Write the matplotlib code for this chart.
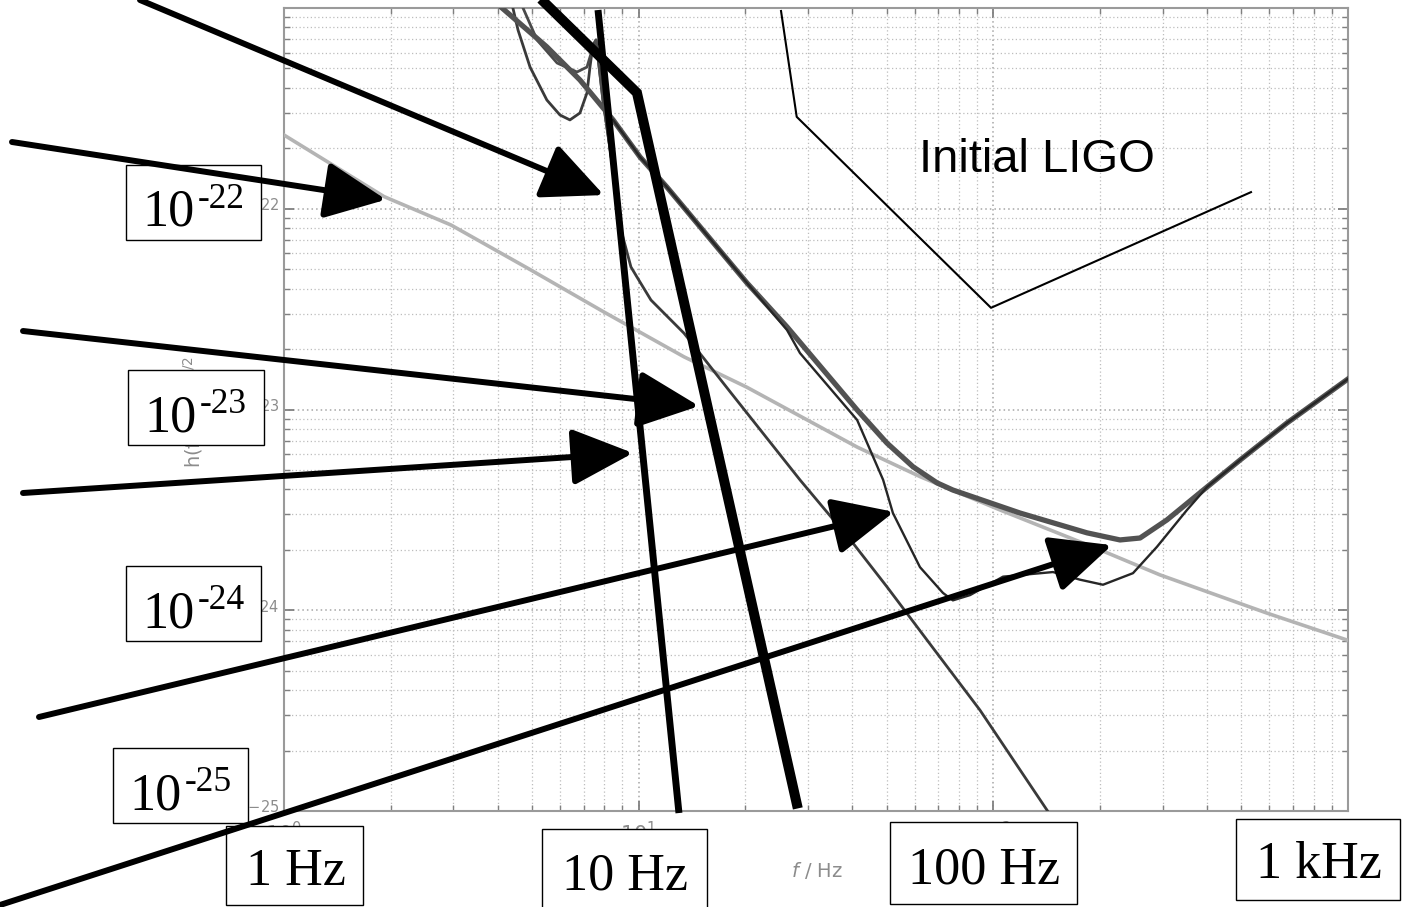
import matplotlib.pyplot as plt
from matplotlib.patches import Rectangle, ConnectionPatch

W, H = 1405, 907  # canvas size in pixels

# noise curves: frequency in Hz, strain amplitude in 1/sqrt(Hz)
total_f = [3.6, 4.12, 5.51, 6.83, 8.47, 10.09, 12.02, 20.2, 26.19, 41.3, 50.1,
           59.4, 69.4, 76.9, 118.9, 183.7, 227.6, 259.2, 308.8, 400.4, 496.1,
           673.0, 1000]
total_h = [1.22e-21, 1.00e-21, 6.40e-22, 4.38e-22, 2.77e-22, 1.81e-22, 1.28e-22,
           4.27e-23, 2.58e-23, 9.95e-24, 6.81e-24, 5.18e-24, 4.31e-24, 3.97e-24,
           3.05e-24, 2.43e-24, 2.24e-24, 2.29e-24, 2.82e-24, 4.11e-24, 5.60e-24,
           8.57e-24, 1.42e-23]

quantum_f = [8.47, 10.09, 12.02, 20.2, 26.19, 28.5, 41.3, 48.9, 52.1, 62.1, 72.1,
             76.9, 86.0, 106.5, 147.3, 175.5, 203.8, 247.6, 289.3, 351.6, 400.4,
             496.1, 673.0, 1000]
quantum_h = [2.77e-22, 1.81e-22, 1.28e-22, 4.27e-23, 2.49e-23, 1.91e-23, 8.87e-24,
             4.46e-24, 3.05e-24, 1.64e-24, 1.22e-24, 1.12e-24, 1.19e-24, 1.47e-24,
             1.55e-24, 1.42e-24, 1.34e-24, 1.53e-24, 2.07e-24, 3.16e-24, 4.11e-24,
             5.60e-24, 8.57e-24, 1.42e-23]

susp_f = [4.37, 4.42, 4.57, 4.94, 5.51, 6.00, 6.40, 6.83, 7.15, 7.29, 7.43, 7.58,
          7.93, 8.47, 8.92, 9.51, 9.89, 10.83, 13.42, 18.21, 28.5, 40.2, 50.1,
          65.0, 91.7, 141.7, 154.2]
susp_h = [1.16e-21, 1.00e-21, 7.76e-22, 5.08e-22, 3.48e-22, 2.93e-22, 2.77e-22,
          3.00e-22, 3.78e-22, 5.08e-22, 6.55e-22, 6.93e-22, 3.48e-22, 1.56e-22,
          7.83e-23, 5.13e-23, 4.57e-23, 3.51e-23, 2.40e-23, 1.21e-23, 4.46e-24,
          2.16e-24, 1.31e-24, 7.11e-25, 3.18e-25, 1.01e-25, 8.0e-26]

notch_f = [4.66, 4.72, 5.17, 5.89, 6.70, 7.15, 7.39, 7.58, 7.93, 8.47]
notch_h = [1.16e-21, 1.00e-21, 6.93e-22, 5.32e-22, 4.80e-22, 5.08e-22, 6.18e-22,
           6.93e-22, 3.48e-22, 1.56e-22]

coating_f = [1.0, 1.914, 2.957, 4.97, 7.98, 13.42, 20.2, 32.5, 41.3, 62.5, 104.4,
             199.8, 295.1, 590.8, 1000]
coating_h = [2.33e-22, 1.15e-22, 8.30e-23, 4.95e-23, 3.06e-23, 1.83e-23, 1.29e-23,
             8.18e-24, 6.50e-24, 4.61e-24, 3.16e-24, 2.00e-24, 1.50e-24, 9.68e-25,
             7.08e-25]

# hand-drawn schematic lines
wall_a_f = [7.68, 12.99]
wall_a_h = [9.77e-22, 9.77e-26]
wall_b_f = [5.27, 9.89, 28.1]
wall_b_h = [1.12e-21, 3.78e-22, 1.03e-25]
ligo_f = [25.2, 27.9, 98.5, 532.7]
ligo_h = [9.66e-22, 2.87e-22, 3.21e-23, 1.21e-22]

# arrow tips on the plot (Hz, strain)
tip_f = [7.98, 1.94, 14.8, 9.64, 52.5, 216.0]
tip_h = [1.17e-22, 1.11e-22, 1.04e-23, 6.07e-24, 3.09e-24, 2.11e-24]

decade_labels = ['-22', '-23', '-24', '-25']
freq_labels = ['1 Hz', '10 Hz', '100 Hz', '1 kHz']

serif = 'Liberation Serif'


def px(x, y):
    # pixel position (origin top left) -> figure fraction
    return x / W, 1 - y / H


fig = plt.figure(figsize=(W / 100, H / 100), dpi=100)
ax = fig.add_axes([284 / W, 1 - 811 / H, 1064 / W, 803 / H])
ax.set_xscale('log')
ax.set_yscale('log')
ax.set_xlim(1, 1000)
ax.set_ylim(1e-25, 1e-21)

ax.grid(True, which='major', ls=(0, (1, 2)), color='#a6a6a6', lw=1.1)
ax.grid(True, which='minor', ls=(0, (1, 2)), color='#bdbdbd', lw=0.9)
ax.tick_params(which='both', direction='in', top=True, right=True,
               color='#808080', labelcolor='#8c8c8c', labelsize=15)
ax.tick_params(which='major', length=7, width=1.3)
ax.tick_params(which='minor', length=4, width=1.0)
ax.tick_params(axis='x', pad=7)
for s in ax.spines.values():
    s.set_color('#9a9a9a')
    s.set_linewidth(1.5)

ax.set_xticks([1, 10, 100, 1000])
ax.set_xticklabels(['$10^{0}$', '$10^{1}$', '$10^{2}$', ''])
ax.set_yticks([1e-25, 1e-24, 1e-23, 1e-22, 1e-21])
ax.set_yticklabels(['$10^{-25}$', '$10^{-24}$', '$10^{-23}$', '$10^{-22}$', ''])

ax.set_xlabel('$f$ / Hz', fontsize=14, color='#8c8c8c')
ax.xaxis.set_label_coords(0.501, -0.061)
ax.set_ylabel('h(f) / Hz$^{-1/2}$', fontsize=14, color='#8c8c8c')
ax.yaxis.set_label_coords(-0.0742, 0.497)

# noise curves
ax.plot(coating_f, coating_h, color='#b4b4b4', lw=2.6, zorder=3)
ax.plot(susp_f, susp_h, color='#3a3a3a', lw=2.0, zorder=3)
ax.plot(notch_f, notch_h, color='#4a4a4a', lw=2.0, zorder=3)
ax.plot(total_f, total_h, color='#525252', lw=3.8, zorder=3)
ax.plot(quantum_f, quantum_h, color='#262626', lw=1.7, zorder=3)

# schematic walls and initial LIGO sketch
ax.plot(wall_a_f, wall_a_h, color='black', lw=5.0, solid_capstyle='butt',
        clip_on=False, zorder=4)
ax.plot(wall_b_f, wall_b_h, color='black', lw=7.2, solid_capstyle='butt',
        solid_joinstyle='miter', clip_on=False, zorder=4)
ax.plot(ligo_f, ligo_h, color='black', lw=1.5, clip_on=False, zorder=4)
ax.text(61.7, 1.52e-22, 'Initial LIGO', family='Liberation Sans', fontsize=34,
        ha='left', va='baseline', zorder=4)

# label boxes
ybox_px = [(126, 165, 261, 240), (128, 370, 264, 445),
           (126, 566, 261, 641), (113, 748, 248, 823)]
for (x0, y0, x1, y1), lab in zip(ybox_px, decade_labels):
    fig.add_artist(Rectangle(px(x0, y1), (x1 - x0) / W, (y1 - y0) / H,
                             transform=fig.transFigure, fc='white', ec='black',
                             lw=1.0, zorder=5))
    fig.text(*px(x0 + 16, y1 - 14), '10', family=serif, fontsize=37.5,
             va='baseline', ha='left', zorder=6)
    fig.text(*px(x0 + 72, y1 - 32), lab, family=serif, fontsize=25.5,
             va='baseline', ha='left', zorder=6)

fbox_px = [(226, 826, 363, 905), (542, 829, 707, 912),
           (890, 822, 1077, 904), (1236, 819, 1400, 900)]
fbase_px = [885, 890, 883, 878]
for (x0, y0, x1, y1), yb, lab in zip(fbox_px, fbase_px, freq_labels):
    fig.add_artist(Rectangle(px(x0, y1), (x1 - x0) / W, (y1 - y0) / H,
                             transform=fig.transFigure, fc='white', ec='black',
                             lw=1.0, zorder=5))
    fig.text(*px((x0 + x1) / 2 + 1, yb), lab, family=serif, fontsize=37.5,
             va='baseline', ha='center', zorder=6)

# arrows coming in from the left margin
tails_px = [(140, 0), (12, 142), (23, 331), (23, 493), (39, 717), (0, 905)]
for (tx, ty), f, h in zip(tails_px, tip_f, tip_h):
    con = ConnectionPatch(xyA=px(tx, ty), coordsA='figure fraction',
                          xyB=(f, h), coordsB='data', axesB=ax,
                          arrowstyle='-|>,head_length=2.7,head_width=1.25',
                          mutation_scale=14, shrinkA=0, shrinkB=0,
                          color='black', lw=4.3, zorder=7)
    con.set_annotation_clip(False)
    fig.add_artist(con)

fig.savefig('out.png', dpi=100)
